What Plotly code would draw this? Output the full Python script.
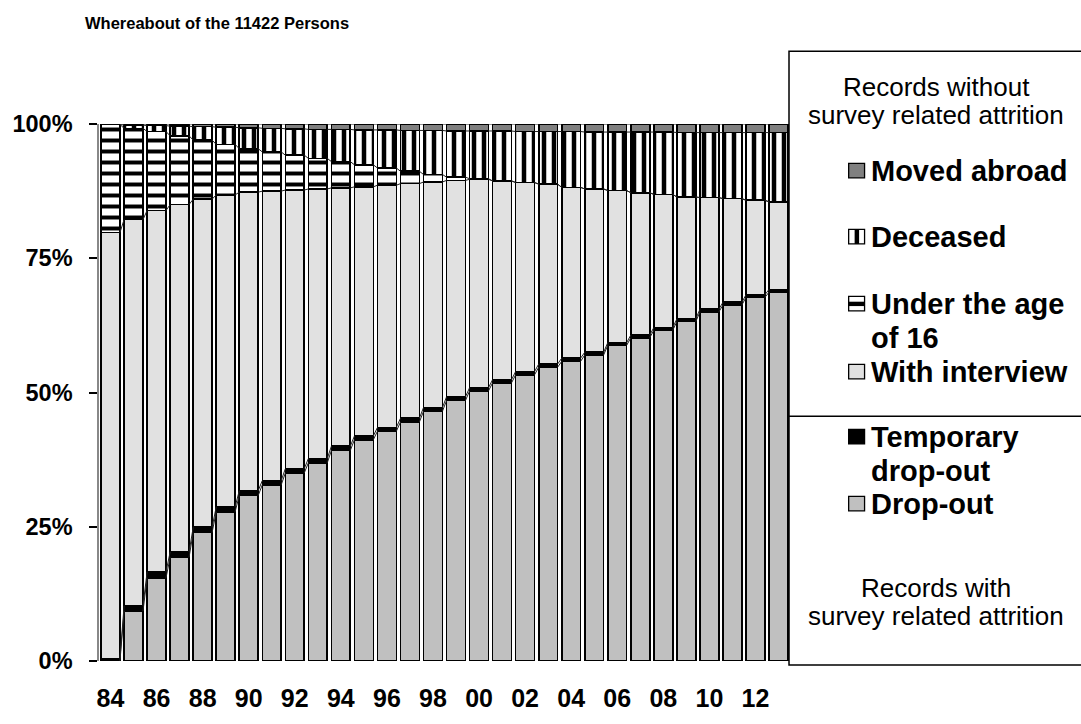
import plotly.graph_objects as go

# ---------------- data ----------------
years = list(range(1984, 2014))
tick_years = list(range(1984, 2013, 2))
tick_labels = ["84", "86", "88", "90", "92", "94", "96", "98", "00", "02",
               "04", "06", "08", "10", "12"]

drop_out = [0.0, 9.3, 15.5, 19.3, 23.9, 27.8, 30.8, 32.8, 35.0, 36.9,
            39.2, 41.2, 42.8, 44.5, 46.5, 48.5, 50.3, 51.8, 53.3, 54.7,
            55.8, 57.0, 58.8, 60.2, 61.6, 63.2, 65.0, 66.3, 67.7, 68.7]
temp_drop = [0.5, 1.0, 1.1, 1.0, 1.0, 0.9, 0.9, 0.8, 0.8, 0.8,
             0.8, 0.7, 0.7, 0.7, 0.7, 0.7, 0.6, 0.6, 0.6, 0.6,
             0.6, 0.5, 0.5, 0.5, 0.5, 0.5, 0.5, 0.5, 0.5, 0.5]
with_interview = [79.3, 71.9, 67.3, 64.7, 61.1, 58.1, 55.6, 53.9, 51.9, 50.2,
                  48.1, 46.4, 45.1, 43.7, 42.0, 40.3, 38.8, 37.0, 35.2, 33.5,
                  31.8, 30.4, 28.3, 26.5, 24.8, 22.7, 20.8, 19.3, 17.6, 16.3]
under_16 = [20.1, 17.0, 14.7, 12.8, 11.0, 9.4, 8.1, 7.3, 6.5, 5.7,
            4.9, 4.1, 3.2, 2.3, 1.4, 0.6, 0.1, 0.0, 0.0, 0.0,
            0.0, 0.0, 0.0, 0.0, 0.0, 0.0, 0.0, 0.0, 0.0, 0.0]
deceased = [0.0, 0.6, 1.1, 1.8, 2.5, 3.2, 3.9, 4.4, 4.9, 5.4,
            6.0, 6.5, 7.1, 7.6, 8.2, 8.6, 8.9, 9.3, 9.5, 9.8,
            10.4, 10.6, 10.9, 11.3, 11.6, 12.0, 12.1, 12.3, 12.6, 12.9]
moved_abroad = [0.1, 0.2, 0.3, 0.4, 0.5, 0.6, 0.7, 0.8, 0.9, 1.0,
                1.0, 1.1, 1.1, 1.2, 1.2, 1.3, 1.3, 1.3, 1.4, 1.4,
                1.4, 1.5, 1.5, 1.5, 1.5, 1.6, 1.6, 1.6, 1.6, 1.6]

title_text = "Whereabout of the 11422 Persons"

# ---------------- style ----------------
FONT = "Liberation Sans, Arial, Helvetica, sans-serif"
W, H = 1081, 724
PL, PR, PT, PB = 95, 790, 124, 677   # plot area in pixels
BAR_W = 0.82

series = [
    ("Drop-out", drop_out, dict(color="#C0C0C0")),
    ("Temporary drop-out", temp_drop, dict(color="#000000")),
    ("With interview", with_interview, dict(color="#E1E1E1")),
    ("Under the age of 16", under_16,
     dict(color="white", pattern=dict(shape="-", size=11, solidity=0.36,
                                      fgcolor="black", bgcolor="white", fillmode="replace"))),
    ("Deceased", deceased,
     dict(color="white", pattern=dict(shape="|", size=10, solidity=0.45,
                                      fgcolor="black", bgcolor="white", fillmode="replace"))),
    ("Moved abroad", moved_abroad, dict(color="#808080")),
]

fig = go.Figure()
for name, vals, mk in series:
    m = dict(mk)
    m["line"] = dict(color="black", width=1.6)
    fig.add_trace(go.Bar(x=years, y=vals, name=name, width=BAR_W, marker=m,
                         showlegend=False))

# series lines connecting the tops of each stack level between bars
cum = [0.0] * len(years)
for name, vals, mk in series:
    cum = [c + v for c, v in zip(cum, vals)]
    xs, ys = [], []
    for i in range(len(years) - 1):
        xs += [years[i] + BAR_W / 2, years[i + 1] - BAR_W / 2, None]
        ys += [cum[i], cum[i + 1], None]
    fig.add_trace(go.Scatter(x=xs, y=ys, mode="lines", showlegend=False,
                             line=dict(color="#222222", width=1), hoverinfo="skip"))


def px(x):
    return (x - PL) / (PR - PL)


def py(y):
    return (PB - y) / (PB - PT)


shapes = []
annotations = []

# legend box
shapes.append(dict(type="rect", xref="paper", yref="paper",
                   x0=px(789), x1=px(1084), y0=py(681), y1=py(49),
                   line=dict(color="black", width=1.5), fillcolor="white", layer="above"))
shapes.append(dict(type="line", xref="paper", yref="paper",
                   x0=px(789), x1=px(1084), y0=py(425), y1=py(425),
                   line=dict(color="black", width=1.5), layer="above"))

legend_items = [
    (["Moved abroad"], 172, "#808080", None),
    (["Deceased"], 240, "white", "v"),
    (["Under the age", "of 16"], 309, "white", "h"),
    (["With interview"], 379, "#E1E1E1", None),
    (["Temporary", "drop-out"], 446, "black", None),
    (["Drop-out"], 515, "#C0C0C0", None),
]
SW0, SW1 = 849, 865
for lines, yc, fill, mark in legend_items:
    shapes.append(dict(type="rect", xref="paper", yref="paper",
                       x0=px(SW0), x1=px(SW1), y0=py(yc + 7.5), y1=py(yc - 7.5),
                       line=dict(color="black", width=1.3), fillcolor=fill, layer="above"))
    if mark == "v":
        shapes.append(dict(type="rect", xref="paper", yref="paper",
                           x0=px(855), x1=px(859.5), y0=py(yc + 7.5), y1=py(yc - 7.5),
                           line=dict(width=0), fillcolor="black", layer="above"))
    if mark == "h":
        shapes.append(dict(type="rect", xref="paper", yref="paper",
                           x0=px(SW0), x1=px(SW1), y0=py(yc + 2.5), y1=py(yc - 2),
                           line=dict(width=0), fillcolor="black", layer="above"))
    for k, t in enumerate(lines):
        annotations.append(dict(xref="paper", yref="paper", x=px(869), y=py(yc + 35 * k),
                                xanchor="left", yanchor="middle", showarrow=False,
                                text="<b>%s</b>" % t,
                                font=dict(family=FONT, size=29, color="black")))

for t, yc in [("Records without", 86), ("survey related attrition", 115),
              ("Records with", 602), ("survey related attrition", 631)]:
    annotations.append(dict(xref="paper", yref="paper", x=px(937), y=py(yc),
                            xanchor="center", yanchor="middle", showarrow=False,
                            text=t, font=dict(family=FONT, size=26, color="black")))

annotations.append(dict(xref="paper", yref="paper", x=px(79), y=py(20),
                        xanchor="left", yanchor="middle", showarrow=False,
                        text="<b>%s</b>" % title_text,
                        font=dict(family=FONT, size=16.5, color="black")))

fig.update_layout(
    barmode="stack",
    width=W, height=H, autosize=False,
    margin=dict(l=PL, r=W - PR, t=PT, b=H - PB, pad=0),
    plot_bgcolor="white", paper_bgcolor="white",
    shapes=shapes, annotations=annotations,
    font=dict(family=FONT, color="black"),
)
fig.update_xaxes(range=[years[0] - 0.5, years[-1] + 0.5], tickmode="array",
                 tickvals=tick_years, ticktext=["<b>%s</b>" % t for t in tick_labels],
                 tickfont=dict(size=25, family=FONT, color="black"),
                 ticks="", showgrid=False, zeroline=False, showline=False,
                 ticklabelstandoff=20)
fig.update_yaxes(range=[0, 100], tickmode="array", tickvals=[0, 25, 50, 75, 100],
                 ticktext=["<b>0%</b>", "<b>25%</b>", "<b>50%</b>", "<b>75%</b>", "<b>100%</b>"],
                 tickfont=dict(size=23.5, family=FONT, color="black"),
                 ticks="outside", ticklen=8, tickwidth=1.5, tickcolor="black",
                 showgrid=False, zeroline=False, showline=True, linecolor="#888888",
                 linewidth=1.5, ticklabelstandoff=12)

fig.write_html("out.html", config={"displayModeBar": False},
               post_script="document.body.style.margin='0px';document.body.style.overflow='hidden';")
